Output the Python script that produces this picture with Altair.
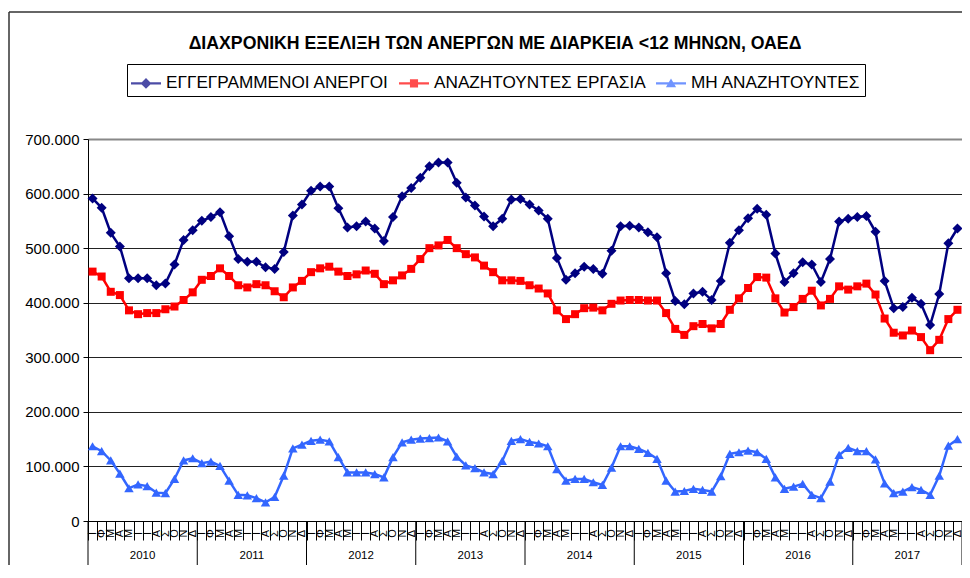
import json
import altair as alt
import pandas as pd

# ---------------- data (thousands of persons, monthly 2010-2017) ----------------
years = ["2010", "2011", "2012", "2013", "2014", "2015", "2016", "2017"]
months = ["Ι", "Φ", "Μ", "Α", "Μ", "Ι", "Ι", "Α", "Σ", "Ο", "Ν", "Δ"]
series_names = ["ΕΓΓΕΓΡΑΜΜΕΝΟΙ ΑΝΕΡΓΟΙ", "ΑΝΑΖΗΤΟΥΝΤΕΣ ΕΡΓΑΣΙΑ", "ΜΗ ΑΝΑΖΗΤΟΥΝΤΕΣ"]
title_text = "ΔΙΑΧΡΟΝΙΚΗ ΕΞΕΛΙΞΗ ΤΩΝ ΑΝΕΡΓΩΝ ΜΕ ΔΙΑΡΚΕΙΑ <12 ΜΗΝΩΝ, ΟΑΕΔ"

registered = [
    591, 574, 528, 503, 445, 445, 445, 432, 435, 470, 515, 533,
    550, 557, 566, 522, 480, 475, 475, 465, 462, 493, 560, 580,
    605, 613, 613, 573, 538, 540, 549, 536, 513, 557, 595, 610,
    629, 650, 657, 657, 620, 593, 578, 558, 540, 554, 589, 590,
    580, 569, 554, 482, 442, 454, 466, 462, 453, 495, 540, 541,
    538, 529, 520, 454, 403, 397, 417, 420, 405, 440, 510, 533,
    555, 572, 561, 490, 438, 454, 474, 470, 438, 480, 549, 554,
    557, 559, 530, 440, 390, 392, 409, 398, 359, 416, 509, 536,
]
seeking = [
    457, 448, 420, 414, 386, 379, 381, 381, 388, 393, 405, 419,
    442, 449, 463, 449, 432, 428, 434, 432, 421, 410, 428, 440,
    456, 463, 466, 457, 449, 452, 459, 453, 434, 441, 450, 462,
    480, 500, 505, 515, 500, 489, 483, 468, 456, 441, 441, 440,
    432, 426, 417, 386, 370, 379, 390, 391, 386, 398, 404, 405,
    405, 404, 404, 381, 352, 341, 357, 361, 353, 361, 387, 408,
    427, 447, 446, 408, 382, 392, 407, 422, 395, 407, 430, 424,
    430, 435, 415, 371, 345, 340, 349, 337, 313, 332, 370, 387,
]
not_seeking = [
    137, 128, 111, 87, 60, 67, 64, 52, 51, 77, 111, 115,
    106, 109, 101, 74, 48, 47, 42, 34, 44, 83, 133, 140,
    147, 149, 146, 117, 89, 89, 89, 86, 80, 117, 144, 149,
    151, 152, 153, 146, 118, 102, 97, 89, 86, 110, 147, 150,
    145, 142, 137, 95, 74, 77, 77, 71, 66, 98, 137, 137,
    132, 125, 114, 74, 54, 55, 59, 57, 54, 82, 123, 126,
    129, 126, 114, 80, 59, 63, 68, 48, 42, 72, 121, 134,
    128, 128, 113, 69, 51, 54, 62, 57, 48, 83, 138, 150,
]
y_ticks = [0, 100000, 200000, 300000, 400000, 500000, 600000, 700000]

# ---------------- styles ----------------
colors = ["#000080", "#FF0000", "#3366FF"]
shapes = ["diamond", "square", "triangle-up"]
sizes = [100, 64, 90]
legend_paths = [
    "M-1,-0.07L1,-0.07L1,0.07L-1,0.07Z M0,-0.36L0.36,0L0,0.36L-0.36,0Z",
    "M-1,-0.07L1,-0.07L1,0.07L-1,0.07Z M-0.27,-0.27L0.27,-0.27L0.27,0.27L-0.27,0.27Z",
    "M-1,-0.07L1,-0.07L1,0.07L-1,0.07Z M0,-0.32L0.34,0.26L-0.34,0.26Z",
]
FONT = "Liberation Sans"
W, H = 874, 382
PAD_L, PAD_T, PAD_B, PAD_R = 80, 131, 44, 0
n = len(registered)

rows = []
for name, vals in zip(series_names, [registered, seeking, not_seeking]):
    for i, v in enumerate(vals):
        rows.append({"pos": i + 0.5, "series": name, "value": v * 1000})
df = pd.DataFrame(rows)

bounds_df = pd.DataFrame({"b": [12 * k for k in range(len(years) + 1)]})
years_df = pd.DataFrame({"mid": [12 * k + 6 for k in range(len(years))], "year": years})

x_scale = alt.Scale(domain=[0, n], nice=False, zero=False)
y_scale = alt.Scale(domain=[0, 700000], nice=False)

month_js = json.dumps(months, ensure_ascii=False)
x_axis = alt.Axis(
    values=list(range(n + 1)),
    labelExpr=f"datum.value < {n} ? {month_js}[datum.value % 12] : ''",
    labelAngle=270, labelAlign="center", labelBaseline="middle",
    labelOffset=W / n / 2, labelPadding=-7, tickSize=19,
    tickColor="#000", domainColor="#000", labelColor="#000",
    labelFont=FONT, labelFontSize=11, title=None, grid=False,
    labelOverlap=False, labelFlush=False, labelBound=False,
)
y_axis = alt.Axis(
    values=y_ticks,
    labelExpr="replace(format(datum.value, ','), ',', '.')",
    tickSize=5, labelPadding=4, tickColor="#000", domainColor="#000",
    labelColor="#000", labelFont=FONT, labelFontSize=15, title=None,
    grid=True,
    gridColor={"condition": {"test": "datum.value == 700000", "value": "#888888"}, "value": "#222222"},
    gridWidth={"condition": {"test": "datum.value == 700000", "value": 2}, "value": 1},
)

X = alt.X("pos:Q", scale=x_scale, axis=x_axis)
Y = alt.Y("value:Q", scale=y_scale, axis=y_axis)

one = alt.Data(values=[{}])
layers = []

# chart-area frame (top and left edges; the others lie outside the window)
layers.append(alt.Chart(one).mark_rule(color="#333333", strokeWidth=1.5).encode(
    x=alt.value(-79), x2=alt.value(W + PAD_R), y=alt.value(-127)))
layers.append(alt.Chart(one).mark_rule(color="#333333", strokeWidth=1.5).encode(
    x=alt.value(-79), y=alt.value(-127), y2=alt.value(H + PAD_B)))

# title
layers.append(alt.Chart(one).mark_text(
    text=title_text, font=FONT, fontSize=17.7, fontWeight="bold", color="#000",
    align="center", baseline="middle").encode(x=alt.value(407), y=alt.value(-95)))

for name, col, shp, sz in zip(series_names, colors, shapes, sizes):
    base = alt.Chart(df).transform_filter(alt.datum.series == name)
    layers.append(base.mark_line(strokeWidth=2.5, color=col).encode(x=X, y=Y))
    layers.append(base.mark_point(filled=True, opacity=1, color=col, shape=shp, size=sz).encode(x=X, y=Y))

legend = alt.Legend(
    title=None, orient="none", legendX=39, legendY=-75, direction="horizontal",
    symbolSize=900, symbolStrokeWidth=0, labelFont=FONT, labelFontSize=17.2,
    labelColor="#000", labelLimit=0, padding=4, strokeColor="#000",
    fillColor="white", columnPadding=10, labelOffset=5,
)
legend_layer = alt.Chart(df).transform_filter("datum.pos < 0").mark_point(filled=True).encode(
    x=X, y=Y,
    color=alt.Color("series:N", scale=alt.Scale(domain=series_names, range=colors), legend=legend),
    shape=alt.Shape("series:N", scale=alt.Scale(domain=series_names, range=legend_paths), legend=legend),
)
layers.append(legend_layer)

year_rules = alt.Chart(bounds_df).mark_rule(color="#000", strokeWidth=1).encode(
    x=alt.X("b:Q", scale=x_scale, axis=x_axis), y=alt.value(H), y2=alt.value(H + PAD_B)
)
year_text = alt.Chart(years_df).mark_text(font=FONT, fontSize=11.5, color="#000", baseline="middle").encode(
    x=alt.X("mid:Q", scale=x_scale, axis=x_axis), y=alt.value(H + 35), text="year:N"
)
layers += [year_rules, year_text]

chart = alt.layer(*layers).properties(
    width=W, height=H,
    autosize=alt.AutoSizeParams(type="none"),
    padding={"left": PAD_L, "top": PAD_T, "right": PAD_R, "bottom": PAD_B},
).configure_view(stroke=None).configure(background="white")

chart.save("out.html", embed_options={"renderer": "svg", "actions": False})
